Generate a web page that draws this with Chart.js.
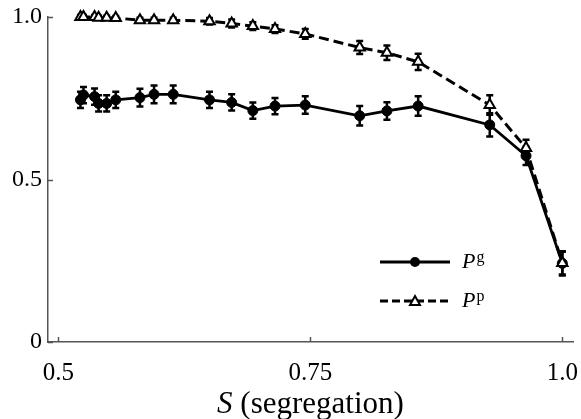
<!DOCTYPE html>
<html>
<head>
<meta charset="utf-8">
<script src="https://cdn.jsdelivr.net/npm/chart.js@4.4.1/dist/chart.umd.min.js"></script>
<style>
  html, body { margin: 0; padding: 0; background: #fff; }
  #wrap { width: 581px; height: 419px; }
</style>
</head>
<body>
<div id="wrap"><canvas id="chart" width="581" height="419"></canvas></div>
<script>
  // segregation values (x) shared by both series
  var sValues = [0.522, 0.525, 0.536, 0.540, 0.548, 0.557, 0.581, 0.595, 0.614, 0.650,
                 0.672, 0.693, 0.715, 0.745, 0.799, 0.826, 0.857, 0.928, 0.964, 1.0];

  // P^g (solid, filled circles)
  var pgValues = [0.745, 0.760, 0.755, 0.734, 0.734, 0.745, 0.752, 0.762, 0.762, 0.745,
                  0.737, 0.712, 0.726, 0.729, 0.696, 0.711, 0.726, 0.668, 0.573, 0.242];
  var pgErrors = [0.025, 0.025, 0.025, 0.025, 0.025, 0.025, 0.027, 0.027, 0.027, 0.025,
                  0.025, 0.025, 0.025, 0.027, 0.030, 0.027, 0.030, 0.036, 0.028, 0.037];

  // P^p (dashed, open triangles)
  var ppValues = [1.0, 1.0, 1.0, 0.998, 0.998, 0.997, 0.990, 0.990, 0.990, 0.987,
                  0.980, 0.972, 0.963, 0.948, 0.906, 0.890, 0.862, 0.729, 0.597, 0.243];
  var ppErrors = [0.006, 0.006, 0.006, 0.006, 0.006, 0.006, 0.008, 0.008, 0.008, 0.010,
                  0.012, 0.012, 0.012, 0.015, 0.020, 0.022, 0.025, 0.030, 0.025, 0.035];

  var xTickValues = [0.5, 0.75, 1.0];
  var xTickLabels = ['0.5', '0.75', '1.0'];
  var yTickValues = [0, 0.5, 1.0];
  var yTickLabels = ['0', '0.5', '1.0'];

  var axisColor = '#555';
  var serif = "'Liberation Serif', 'Times New Roman', serif";

  function toPoints(xs, ys) {
      var pts = [];
      for (var i = 0; i < xs.length; i++) {
          pts.push({ x: xs[i], y: ys[i] });
      }
      return pts;
  }

  // error bars, drawn under the markers
  var errorBars = {
      id: 'errorBars',
      beforeDatasetsDraw: function(chart) {
          var ctx = chart.ctx;
          var xs = chart.scales.x, ys = chart.scales.y;
          var sets = [[pgValues, pgErrors], [ppValues, ppErrors]];
          ctx.save();
          ctx.strokeStyle = '#000';
          ctx.lineWidth = 2.5;
          sets.forEach(function(s) {
              for (var i = 0; i < sValues.length; i++) {
                  var px = xs.getPixelForValue(sValues[i]);
                  var top = ys.getPixelForValue(s[0][i] + s[1][i]);
                  var bot = ys.getPixelForValue(s[0][i] - s[1][i]);
                  ctx.beginPath();
                  ctx.moveTo(px, top);
                  ctx.lineTo(px, bot);
                  ctx.moveTo(px - 3.5, top);
                  ctx.lineTo(px + 3.5, top);
                  ctx.moveTo(px - 3.5, bot);
                  ctx.lineTo(px + 3.5, bot);
                  ctx.stroke();
              }
          });
          ctx.restore();
      }
  };

  // inward tick marks, axis title and legend
  var decorations = {
      id: 'decorations',
      afterDraw: function(chart) {
          var ctx = chart.ctx;
          var xs = chart.scales.x, ys = chart.scales.y;
          var area = chart.chartArea;
          ctx.save();
          ctx.strokeStyle = axisColor;
          ctx.lineWidth = 1.5;
          ctx.beginPath();
          xTickValues.forEach(function(v) {
              var px = Math.round(xs.getPixelForValue(v)) + 0.5;
              ctx.moveTo(px, area.bottom);
              ctx.lineTo(px, area.bottom - 5);
          });
          yTickValues.forEach(function(v) {
              var py = Math.round(ys.getPixelForValue(v)) + 0.5;
              ctx.moveTo(area.left, py);
              ctx.lineTo(area.left + 5, py);
          });
          ctx.stroke();

          // x axis title: italic S + (segregation)
          ctx.fillStyle = '#000';
          ctx.textBaseline = 'alphabetic';
          ctx.textAlign = 'left';
          var f1 = 'italic 31px ' + serif, f2 = '31px ' + serif;
          ctx.font = f1;
          var w1 = ctx.measureText('S').width;
          ctx.font = f2;
          var w2 = ctx.measureText(' (segregation)').width;
          var cx = (area.left + area.right) / 2;
          var tx = cx - (w1 + w2) / 2;
          ctx.font = f1;
          ctx.fillText('S', tx, 413);
          ctx.font = f2;
          ctx.fillText(' (segregation)', tx + w1, 413);

          // legend
          var rows = [
              { y: 262, sup: 'g', dash: [], tri: false },
              { y: 301, sup: 'p', dash: [8, 4], tri: true }
          ];
          rows.forEach(function(r) {
              ctx.strokeStyle = '#000';
              ctx.lineWidth = 3;
              ctx.setLineDash(r.dash);
              ctx.beginPath();
              ctx.moveTo(380, r.y);
              ctx.lineTo(450, r.y);
              ctx.stroke();
              ctx.setLineDash([]);
              if (r.tri) {
                  ctx.fillStyle = '#fff';
                  ctx.lineWidth = 2;
                  ctx.beginPath();
                  ctx.moveTo(415, r.y - 5);
                  ctx.lineTo(420, r.y + 4);
                  ctx.lineTo(410, r.y + 4);
                  ctx.closePath();
                  ctx.fill();
                  ctx.stroke();
              } else {
                  ctx.fillStyle = '#000';
                  ctx.beginPath();
                  ctx.arc(415, r.y, 5, 0, Math.PI * 2);
                  ctx.fill();
              }
              ctx.fillStyle = '#000';
              ctx.font = 'italic 22px ' + serif;
              ctx.fillText('P', 462, r.y + 6);
              var pw = ctx.measureText('P').width;
              ctx.font = '16px ' + serif;
              ctx.fillText(r.sup, 462 + pw + 1, r.y);
          });
          ctx.restore();
      }
  };

  var ctx = document.getElementById('chart').getContext('2d');
  var chart = new Chart(ctx, {
      type: 'scatter',
      data: {
          datasets: [{
              label: 'Pp',
              data: toPoints(sValues, ppValues),
              showLine: true,
              borderColor: '#000',
              borderWidth: 3,
              borderDash: [10, 5],
              pointStyle: 'triangle',
              pointRadius: 6,
              pointBorderWidth: 2,
              pointBackgroundColor: '#fff',
              clip: false
          }, {
              label: 'Pg',
              data: toPoints(sValues, pgValues),
              showLine: true,
              borderColor: '#000',
              borderWidth: 2.8,
              backgroundColor: '#000',
              pointStyle: 'circle',
              pointRadius: 5,
              pointBorderWidth: 1,
              pointBackgroundColor: '#000',
              clip: false
          }]
      },
      options: {
          responsive: false,
          animation: false,
          devicePixelRatio: 1,
          layout: { padding: { top: 17, right: 8, left: 0, bottom: 0 } },
          plugins: {
              legend: { display: false },
              tooltip: { enabled: false }
          },
          scales: {
              x: {
                  type: 'linear',
                  min: 0.4898,
                  max: 1.0106,
                  grid: { display: false, drawTicks: false },
                  border: { display: true, color: axisColor, width: 1.5 },
                  afterBuildTicks: function(scale) {
                      scale.ticks = xTickValues.map(function(v) { return { value: v }; });
                  },
                  afterFit: function(scale) {
                      scale.height = 77;
                      scale.paddingLeft = 0;
                      scale.paddingRight = 0;
                  },
                  ticks: {
                      autoSkip: false,
                      maxRotation: 0,
                      padding: 16,
                      color: '#000',
                      font: { family: serif, size: 25 },
                      callback: function(value, index) { return xTickLabels[index]; }
                  }
              },
              y: {
                  type: 'linear',
                  min: 0,
                  max: 1,
                  grid: { display: false, drawTicks: false },
                  border: { display: true, color: axisColor, width: 1.5 },
                  afterBuildTicks: function(scale) {
                      scale.ticks = yTickValues.map(function(v) { return { value: v }; });
                  },
                  afterFit: function(scale) {
                      scale.width = 48;
                      scale.paddingTop = 0;
                      scale.paddingBottom = 0;
                  },
                  ticks: {
                      autoSkip: false,
                      padding: 6,
                      color: '#000',
                      font: { family: serif, size: 24 },
                      callback: function(value, index) { return yTickLabels[index]; }
                  }
              }
          }
      },
      plugins: [errorBars, decorations]
  });
</script>
</body>
</html>
